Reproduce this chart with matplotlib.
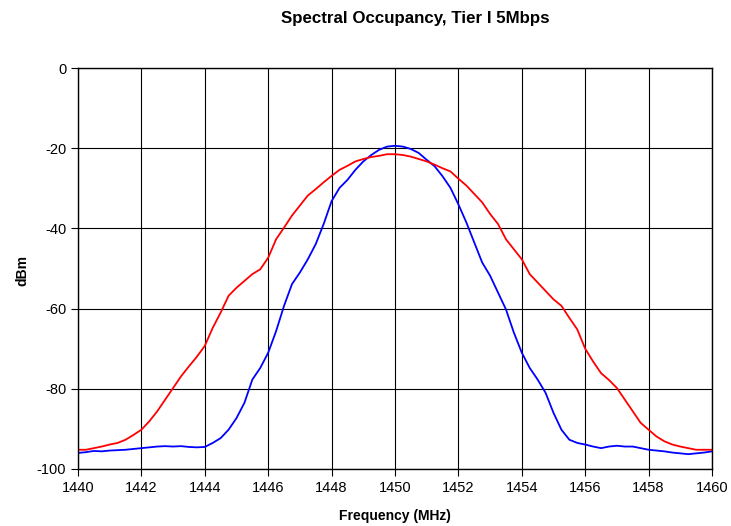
import numpy as np
import matplotlib
matplotlib.use('Agg')
import matplotlib.pyplot as plt

plt.rcParams['font.family'] = ['Liberation Sans', 'DejaVu Sans']
plt.rcParams['axes.unicode_minus'] = False

# frequency grid (MHz), values every 0.25 MHz
freq = np.arange(1440, 1460.01, 0.25)

red_dbm = [
    -95.2, -95.2, -94.8, -94.4, -93.9, -93.5, -92.7, -91.5,   # 1440 - 1441.75
    -90.2, -88.1, -85.6, -82.7, -79.8, -76.9, -74.4, -72.0,   # 1442 - 1443.75
    -69.3, -64.8, -61.0, -56.8, -54.8, -53.1, -51.4, -50.2,   # 1444 - 1445.75
    -47.3, -42.7, -39.8, -36.8, -34.3, -31.8, -30.2, -28.5,   # 1446 - 1447.75
    -26.9, -25.4, -24.4, -23.3, -22.7, -22.2, -21.9, -21.5,   # 1448 - 1449.75
    -21.5, -21.7, -22.1, -22.7, -23.3, -24.1, -25.0, -25.8,   # 1450 - 1451.75
    -27.6, -29.3, -31.4, -33.5, -36.4, -38.9, -42.7, -45.2,   # 1452 - 1453.75
    -47.7, -51.4, -53.5, -55.6, -57.7, -59.3, -62.3, -65.2,   # 1454 - 1455.75
    -70.0, -73.2, -76.1, -77.8, -79.8, -82.7, -85.6, -88.5,   # 1456 - 1457.75
    -90.2, -91.9, -93.1, -93.9, -94.4, -94.8, -95.2, -95.2,   # 1458 - 1459.75
    -95.2,                                                     # 1460
]

blue_dbm = [
    -96.0, -95.8, -95.5, -95.6, -95.4, -95.3, -95.2, -95.0,   # 1440 - 1441.75
    -94.8, -94.6, -94.4, -94.3, -94.4, -94.3, -94.5, -94.6,   # 1442 - 1443.75
    -94.5, -93.5, -92.3, -90.2, -87.3, -83.5, -77.7, -74.8,   # 1444 - 1445.75
    -71.0, -65.6, -59.3, -53.9, -51.0, -47.7, -43.9, -38.9,   # 1446 - 1447.75
    -33.2, -29.9, -27.9, -25.4, -23.3, -21.7, -20.4, -19.6,   # 1448 - 1449.75
    -19.4, -19.6, -20.2, -21.2, -22.9, -24.5, -27.0, -29.9,   # 1450 - 1451.75
    -34.0, -38.5, -43.5, -48.5, -51.8, -56.0, -60.2, -66.0,   # 1452 - 1453.75
    -71.0, -74.8, -77.7, -81.0, -86.0, -90.2, -92.7, -93.5,   # 1454 - 1455.75
    -93.9, -94.4, -94.8, -94.4, -94.2, -94.4, -94.4, -94.8,   # 1456 - 1457.75
    -95.2, -95.4, -95.6, -95.9, -96.1, -96.3, -96.1, -95.9,   # 1458 - 1459.75
    -95.6,                                                     # 1460
]

x_ticks = np.arange(1440, 1461, 2)
y_ticks = np.arange(-100, 1, 20)

fig = plt.figure(figsize=(7.31, 5.26), dpi=100)
ax = fig.add_axes([78 / 731, 1 - 469 / 526, (712 - 78) / 731, (469 - 68) / 526])

ax.plot(freq, blue_dbm, color='#0000ff', lw=1.3)
ax.plot(freq, red_dbm, color='#ff0000', lw=1.3)

ax.set_xlim(1440, 1460)
ax.set_ylim(-100, 0)
ax.set_xticks(x_ticks)
ax.set_yticks(y_ticks)
ax.tick_params(direction='out', length=5, width=0.8, labelsize=10.5, color='black')
ax.grid(True, color='black', lw=0.8)
for s in ax.spines.values():
    s.set_color('black')
    s.set_linewidth(1)

ax.set_xlabel('Frequency (MHz)', fontsize=10, fontweight='bold', labelpad=10)
fig.text(22 / 731, 1 - 270 / 526, 'dBm', rotation=90, fontsize=10, fontweight='bold',
         ha='center', va='center')
fig.text(415 / 731, 1 - 19 / 526, 'Spectral Occupancy, Tier I 5Mbps', fontsize=12.2,
         fontweight='bold', ha='center', va='center')

fig.savefig('out.png', dpi=100)
